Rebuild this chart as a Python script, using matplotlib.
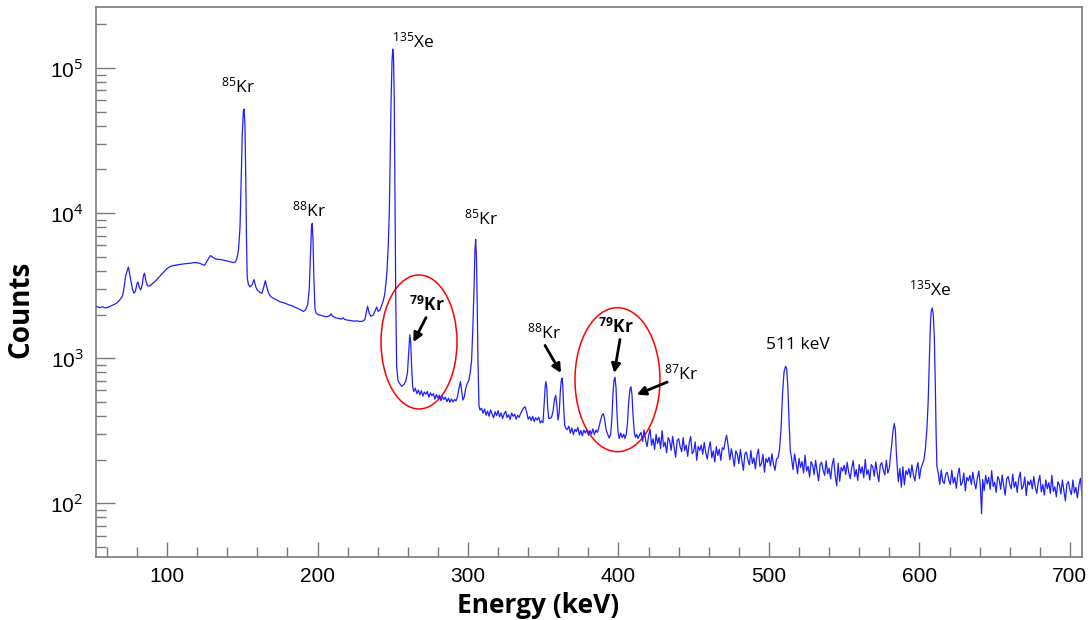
import matplotlib
matplotlib.use('Agg')
import matplotlib.pyplot as plt
from matplotlib.patches import Ellipse
from matplotlib.ticker import FixedLocator, FixedFormatter, MultipleLocator, NullFormatter

plt.rcParams['mathtext.fontset'] = 'custom'
plt.rcParams['mathtext.rm'] = 'Open Sans'
plt.rcParams['mathtext.it'] = 'Open Sans:italic'
plt.rcParams['mathtext.bf'] = 'Open Sans:bold'

# spectrum, (energy keV, counts), split by region
spec_53_150 = [(53, 2280), (55, 2230), (57, 2260), (59, 2220), (61, 2250), (63, 2300), (65, 2350),
               (67, 2420), (69, 2550), (70.5, 2700), (71.5, 3100), (72.5, 3700), (73.5, 4000),
               (74.3, 4250), (75, 3900), (76, 3400), (77, 3000), (78, 2800), (79, 2900), (80, 3250),
               (80.7, 3350), (81.5, 3100), (82.5, 2950), (83.5, 3200), (84.3, 3700), (85, 3850),
               (86, 3400), (87, 3150), (88.5, 3150), (90, 3250), (92, 3380), (94, 3550), (96, 3750),
               (98, 3950), (100, 4150), (102, 4280), (104, 4350), (106, 4380), (108, 4420),
               (110, 4450), (112, 4480), (114, 4500), (116, 4520), (118, 4560), (120, 4550),
               (122, 4500), (124, 4400), (125, 4380), (126.5, 4650), (128, 4950), (129, 5100),
               (130.5, 4950), (132, 4850), (134, 4800), (136, 4780), (138, 4720), (140, 4680),
               (142, 4620), (144, 4560), (145.5, 4600), (146.5, 4900), (147.5, 5600), (148.5, 8000),
               (149.3, 17000), (150, 35000), (150.7, 50000)]
spec_151_250 = [(151.2, 52000), (151.8, 40000), (152.3, 18000), (152.8, 6500), (153.3, 3600),
                (154, 3250), (155, 3100), (156.5, 3200), (157.8, 3480), (159, 3100), (160, 2950),
                (161.5, 2850), (163, 2800), (164.3, 3100), (165.3, 3420), (166.3, 3100),
                (167.5, 2800), (169, 2650), (171, 2580), (173, 2520), (175, 2450), (177, 2420),
                (179, 2380), (181, 2330), (183, 2300), (185, 2250), (187, 2200), (189, 2150),
                (190.6, 2100), (192, 2150), (193.5, 2350), (194.5, 3000), (195.3, 5000),
                (196, 8000), (196.5, 8490), (197, 6500), (197.6, 3500), (198.3, 2200), (199, 2050),
                (200.5, 1990), (202, 1980), (204, 1950), (206, 1930), (208, 1960), (209, 2020),
                (210, 1950), (212, 1900), (214, 1880), (216, 1860), (217, 1900), (218, 1850),
                (220, 1830), (222, 1820), (224, 1800), (226, 1810), (228, 1790), (230, 1800),
                (231.5, 1850), (232.5, 2100), (233.3, 2280), (234.3, 2050), (235.5, 1950),
                (237, 1980), (238.5, 2150), (239.3, 2250), (240.3, 2100), (241.5, 2150),
                (242.5, 2300), (243.5, 2450), (244.5, 2700), (245.5, 3300), (246.3, 4200),
                (247, 6000), (247.7, 10000), (248.3, 25000), (248.9, 60000), (249.5, 110000),
                (250, 135000)]
spec_250_350 = [(250.5, 120000), (251, 60000), (251.5, 12000), (252, 2500), (252.6, 870),
                (253.5, 700), (254.8, 665), (256, 640), (257.5, 660), (258.7, 700), (259.8, 800),
                (260.6, 1100), (261.3, 1450), (261.9, 1300), (262.5, 900), (263.2, 640), (264, 590),
                (265, 622), (266, 571), (267, 604), (268, 560), (269, 598), (270, 548), (271, 585),
                (272, 566), (273, 590), (274, 538), (275, 578), (276, 552), (277, 570), (278, 522),
                (279, 562), (280, 530), (281, 556), (282, 510), (283, 545), (284, 520), (285, 540),
                (286, 502), (287, 530), (288, 498), (289, 524), (290, 500), (291, 520), (292, 508),
                (293, 540), (294, 620), (295, 690), (295.8, 600), (296.6, 515), (297.5, 540),
                (298.5, 620), (299.5, 670), (300.5, 700), (301.5, 800), (302.4, 970),
                (303.2, 1600), (304, 3000), (304.6, 5500), (305.1, 6600), (305.6, 5000),
                (306.1, 2500), (306.6, 1000), (307.3, 470), (308, 440), (309, 452), (310, 418),
                (311, 447), (312, 405), (313, 433), (314, 398), (315, 441), (316, 412), (317, 389),
                (318, 428), (319, 402), (320, 436), (321, 395), (322, 420), (323, 384), (324, 414),
                (325, 431), (326, 390), (327, 408), (328, 378), (329, 419), (330, 398), (331, 412),
                (332, 380), (333, 404), (334, 392), (335, 418), (336, 436), (337, 455), (338, 462),
                (339, 425), (340, 380), (341, 396), (342, 372), (343, 398), (344, 366), (345, 389),
                (346, 375), (347, 393), (348, 358), (349, 370)]
spec_350_414 = [(349.8, 360), (350.6, 480), (351.3, 640), (351.8, 690), (352.4, 620), (353, 450),
                (353.7, 385), (354.5, 385), (355.5, 390), (356.5, 430), (357.5, 520), (358.3, 555),
                (359, 480), (359.8, 375), (360.6, 420), (361.4, 600), (362, 700), (362.5, 730),
                (363, 650), (363.6, 450), (364.3, 345), (365, 328), (366, 322), (367, 340),
                (368, 305), (369, 331), (370, 298), (371, 324), (372, 312), (373, 334), (374, 296),
                (375, 318), (376, 292), (377, 320), (378, 305), (379, 322), (380, 295), (381, 318),
                (382, 300), (383, 326), (384, 298), (385, 320), (386, 308), (387, 335), (388, 370),
                (389, 405), (389.9, 415), (390.8, 380), (391.8, 320), (392.8, 300), (393.8, 282),
                (394.8, 300), (395.6, 380), (396.3, 560), (397, 700), (397.7, 740), (398.4, 620),
                (399, 420), (399.7, 310), (400.5, 280), (401.5, 305), (402.5, 284), (403.5, 300),
                (404.3, 280), (405.2, 300), (406, 360), (406.8, 500), (407.6, 610), (408.3, 635),
                (409, 560), (409.7, 400), (410.5, 310), (411.3, 285), (412.1, 298), (413, 280),
                (414, 295)]
spec_415_505 = [(415, 308), (416, 267), (417, 321), (418, 273), (419, 246), (420, 292), (421, 324),
                (422, 251), (423, 279), (424, 235), (425, 299), (426, 259), (427, 285), (428, 239),
                (429, 317), (430, 246), (431, 264), (432, 223), (433, 284), (434, 270), (435, 232),
                (436, 290), (437, 243), (438, 208), (439, 271), (440, 279), (441, 245), (442, 227),
                (443, 284), (444, 231), (445, 252), (446, 211), (447, 261), (448, 289), (449, 220),
                (450, 228), (451, 265), (452, 198), (453, 247), (454, 232), (455, 252), (456, 218),
                (457, 263), (458, 223), (459, 202), (460, 239), (461, 266), (462, 206), (463, 230),
                (464, 193), (465, 246), (466, 214), (467, 236), (468, 198), (469, 242), (470, 235),
                (471, 270), (471.8, 295), (472.5, 268), (473.3, 230), (474, 200), (475, 238),
                (476, 209), (477, 180), (478, 230), (479, 218), (480, 188), (481, 235), (482, 197),
                (483, 169), (484, 219), (485, 226), (486, 199), (487, 184), (488, 231), (489, 188),
                (490, 206), (491, 173), (492, 214), (493, 236), (494, 180), (495, 188), (496, 218),
                (497, 164), (498, 204), (499, 192), (500, 208), (501, 181), (502, 220), (503, 186),
                (504, 169), (505, 202)]
spec_506_580 = [(506, 205), (507, 235), (508, 320), (509, 560), (510, 800), (511, 880),
                (511.8, 850), (512.6, 620), (513.4, 360), (514.2, 230), (515, 205), (516, 171),
                (517, 219), (518, 190), (519, 160), (520, 204), (521, 177), (522, 194), (523, 162),
                (524, 215), (525, 167), (526, 180), (527, 152), (528, 194), (529, 184), (530, 158),
                (531, 198), (532, 166), (533, 143), (534, 185), (535, 192), (536, 169), (537, 156),
                (538, 197), (539, 160), (540, 175), (541, 148), (542, 184), (543, 204), (544, 156),
                (545, 132), (546, 189), (547, 142), (548, 177), (549, 167), (550, 183), (551, 158),
                (552, 192), (553, 163), (554, 148), (555, 176), (556, 197), (557, 153), (558, 171),
                (559, 144), (560, 185), (561, 161), (562, 179), (563, 150), (564, 201), (565, 158),
                (566, 170), (567, 145), (568, 185), (569, 178), (570, 154), (571, 193), (572, 162),
                (573, 141), (574, 184), (575, 191), (576, 169), (577, 157), (578, 198), (579, 162),
                (580, 175)]
spec_580_640 = [(580.5, 200), (581.5, 250), (582.5, 320), (583.3, 355), (584, 320), (584.7, 220),
                (585.4, 170), (586, 141), (587, 174), (588, 129), (589, 179), (590, 134), (591, 168),
                (592, 158), (593, 174), (594, 151), (595, 184), (596, 157), (597, 143), (598, 170),
                (599, 191), (600, 148), (601, 174), (602, 186), (603, 200), (604, 240), (605, 330),
                (605.8, 500), (606.5, 900), (607.2, 1600), (607.8, 2100), (608.5, 2220),
                (609.2, 2000), (609.9, 1400), (610.5, 700), (611.1, 300), (611.6, 180),
                (612.5, 162), (613.5, 135), (614.5, 170), (615.5, 142), (616.5, 137), (617.5, 159),
                (618.5, 164), (619.5, 145), (620.5, 135), (621.5, 169), (622.5, 138), (623.5, 151),
                (624.5, 127), (625.5, 158), (626.5, 175), (627.5, 133), (628.5, 139), (629.5, 162),
                (630.5, 122), (631.5, 151), (632.5, 143), (633.5, 156), (634.5, 135), (635.5, 164),
                (636.5, 139), (637.5, 126), (638.5, 150), (639.5, 167), (640.5, 130)]
spec_641_708 = [(641.3, 85), (642, 146), (643, 122), (644, 156), (645, 136), (646, 151), (647, 125),
                (648, 168), (649, 131), (650, 140), (651, 119), (652, 153), (653, 146), (654, 125),
                (655, 157), (656, 132), (657, 114), (658, 148), (659, 153), (660, 135), (661, 126),
                (662, 159), (663, 129), (664, 141), (665, 119), (666, 148), (667, 164), (668, 125),
                (669, 131), (670, 152), (671, 113), (672, 142), (673, 134), (674, 145), (675, 126),
                (676, 153), (677, 129), (678, 117), (679, 140), (680, 156), (681, 120), (682, 135),
                (683, 114), (684, 145), (685, 126), (686, 139), (687, 117), (688, 156), (689, 121),
                (690, 130), (691, 111), (692, 141), (693, 134), (694, 116), (695, 145), (696, 122),
                (697, 104), (698, 136), (699, 141), (700, 123), (701, 115), (702, 145), (703, 118),
                (704, 129), (705, 109), (706, 134), (707, 149), (708, 114)]

# plain peak labels: (text, energy, counts)
peak_labels = [(r'$^{85}$Kr', 147.2, 75000), (r'$^{88}$Kr', 194.4, 10400),
               (r'$^{135}$Xe', 263.5, 152700), (r'$^{85}$Kr', 308.6, 9140),
               ('511 keV', 519.3, 1225), (r'$^{135}$Xe', 607, 2970)]
# arrow labels: (text, bold, text pos, arrow tail, arrow tip)
arrow_labels = [(r'$^{\mathbf{79}}$Kr', True, (272.8, 2307), (272.1, 1905), (263.7, 1291)),
                (r'$^{88}$Kr', False, (350.5, 1503), (351.2, 1225), (361.8, 791)),
                (r'$^{\mathbf{79}}$Kr', True, (398.3, 1630), (401.0, 1346), (397.2, 791)),
                (r'$^{87}$Kr', False, (441.5, 787), (432.4, 685), (412.1, 561))]

spectrum = (spec_53_150 + spec_151_250 + spec_250_350 + spec_350_414 + spec_415_505
            + spec_506_580 + spec_580_640 + spec_641_708)
energy = [p[0] for p in spectrum]
counts = [p[1] for p in spectrum]

fig = plt.figure(figsize=(10.91, 6.2), dpi=100)
ax = fig.add_axes([0.088, 0.1016, 0.9037, 0.8871])

ax.plot(energy, counts, color='#1f1fff', lw=0.9)
ax.set_yscale('log')
ax.set_xlim(52.8, 708)
ax.set_ylim(42.7, 2.63e5)

grey = '#7a7a7a'
for s in ax.spines.values():
    s.set_color(grey)
    s.set_linewidth(1.2)

ax.xaxis.set_major_locator(MultipleLocator(100))
ax.xaxis.set_minor_locator(MultipleLocator(20))
ax.yaxis.set_major_locator(FixedLocator([1e2, 1e3, 1e4, 1e5]))
ax.yaxis.set_major_formatter(FixedFormatter([r'10$^{2}$', r'10$^{3}$', r'10$^{4}$', r'10$^{5}$']))
minors = [m * 10 ** d for d in range(1, 6) for m in range(2, 10)]
ax.yaxis.set_minor_locator(FixedLocator(minors))
ax.yaxis.set_minor_formatter(NullFormatter())
ax.tick_params(axis='both', which='both', direction='in', color=grey, width=1.0,
               top=False, right=False)
ax.tick_params(axis='y', which='major', length=14, pad=9)
ax.tick_params(axis='y', which='minor', length=7)
ax.tick_params(axis='x', which='major', length=11, pad=7)
ax.tick_params(axis='x', which='minor', length=7)
for lab in ax.get_xticklabels() + ax.get_yticklabels():
    lab.set_fontfamily('Liberation Sans')
    lab.set_fontsize(15)

fig.text(0.019, 0.5008, 'Counts', rotation=90, ha='center', va='center',
         fontsize=20, fontweight='bold', family='Open Sans')
fig.text(0.4936, 0.024, 'Energy (keV)', ha='center', va='center',
         fontsize=19, fontweight='bold', family='Open Sans')

for txt, e, c in peak_labels:
    ax.text(e, c, txt, ha='center', va='center', fontsize=12.5, family='Open Sans')

for txt, bold, tpos, tail, tip in arrow_labels:
    ax.text(tpos[0], tpos[1], txt, ha='center', va='center', fontsize=12.5,
            family='Open Sans', fontweight='bold' if bold else 'normal')
    ax.annotate('', xy=tip, xytext=tail,
                arrowprops=dict(arrowstyle='-|>', color='black', lw=2, mutation_scale=13,
                                shrinkA=0, shrinkB=0))

# red circles round the 79Kr lines
ax.add_patch(Ellipse((0.3276, 0.391), 0.0771, 0.2436, transform=ax.transAxes,
                     fill=False, edgecolor='red', lw=1.1))
ax.add_patch(Ellipse((0.5289, 0.3224), 0.0862, 0.2618, transform=ax.transAxes,
                     fill=False, edgecolor='red', lw=1.1))

fig.savefig('out.png', dpi=100)
